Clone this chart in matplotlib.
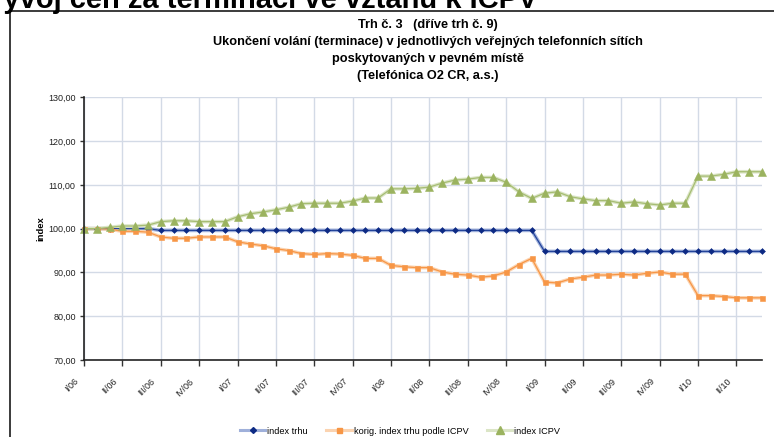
import matplotlib
matplotlib.use("Agg")
import matplotlib.pyplot as plt
from matplotlib.lines import Line2D
import matplotlib.transforms as mtransforms
import numpy as np

# ---- data ----
quarter_labels = ["I/06", "II/06", "III/06", "IV/06", "I/07", "II/07", "III/07", "IV/07",
                  "I/08", "II/08", "III/08", "IV/08", "I/09", "II/09", "III/09", "IV/09",
                  "I/10", "II/10"]

index_trhu = [100.0] * 6 + [99.6] * 30 + [94.8] * 18

korig_index = [100.0, 100.0, 99.9, 99.4, 99.4, 99.2, 98.1, 97.8, 97.8, 98.1, 98.1, 98.1,
               97.0, 96.5, 96.1, 95.4, 95.0, 94.3, 94.1, 94.3, 94.2, 93.9, 93.2, 93.2,
               91.6, 91.3, 91.1, 91.1, 90.1, 89.6, 89.4, 88.9, 89.2, 90.1, 91.8, 93.2,
               87.8, 87.6, 88.5, 88.9, 89.4, 89.4, 89.6, 89.4, 89.8, 90.1, 89.6, 89.6,
               84.7, 84.7, 84.5, 84.2, 84.2, 84.2]

index_icpv = [100.0, 100.0, 100.3, 100.6, 100.6, 100.8, 101.6, 101.8, 101.8, 101.6, 101.6, 101.6,
              102.7, 103.4, 103.8, 104.3, 104.9, 105.7, 105.8, 105.8, 105.8, 106.3, 107.0, 107.0,
              109.1, 109.1, 109.2, 109.5, 110.4, 111.1, 111.3, 111.7, 111.7, 110.6, 108.4, 106.9,
              108.1, 108.4, 107.3, 106.8, 106.4, 106.4, 105.8, 106.1, 105.7, 105.4, 105.8, 105.8,
              112.0, 112.0, 112.4, 113.0, 113.0, 113.0]

series_names = ["index trhu", "korig. index trhu podle ICPV", "index ICPV"]

W, H = 774, 437
fig = plt.figure(figsize=(W / 100, H / 100), dpi=100)
fig.patch.set_facecolor("white")

FONT = "Liberation Sans"

def fx(px):
    return px / W

def fy(py):
    return 1 - py / H

# big heading (cut off at top, as in the source)
fig.text(fx(537), fy(8), "Vývoj cen za terminaci ve vztahu k ICPV", ha="right", va="baseline",
         fontsize=21, fontweight="bold", family=FONT, color="black")

# chart frame (top + left visible)
fig.add_artist(Line2D([fx(9.5), 1.0], [fy(10.5), fy(10.5)], color="#1a1a1a", lw=1.2,
                      transform=fig.transFigure))
fig.add_artist(Line2D([fx(9.5), fx(9.5)], [fy(10.5), 0.0], color="#1a1a1a", lw=1.2,
                      transform=fig.transFigure))

# chart titles
title_lines = ["Trh č. 3   (dříve trh č. 9)",
               "Ukončení volání (terminace) v jednotlivých veřejných telefonních sítích",
               "poskytovaných v pevném místě",
               "(Telefónica O2 CR, a.s.)"]
for i, t in enumerate(title_lines):
    fig.text(fx(428), fy(25 + 17 * i), t, ha="center", va="center", fontsize=9.2,
             fontweight="bold", family=FONT)

left, right, top, bottom = 84, 762, 97.3, 360
ax = fig.add_axes([fx(left), fy(bottom), fx(right - left), (bottom - top) / H])

x = np.arange(len(index_trhu))
n = len(x)

grid_c = "#d3dae6"
ax.set_xlim(0, n - 1)
ax.set_ylim(70, 130)
ax.set_yticks(np.arange(70, 131, 10))
ax.set_yticklabels([f"{v:.2f}".replace(".", ",") for v in np.arange(70, 131, 10)],
                   fontsize=6.5, family=FONT, color="#222222")
ax.set_xticks(np.arange(0, n, 3))
ax.set_xticklabels(quarter_labels, rotation=45, ha="right", rotation_mode="anchor",
                   fontsize=6.5, family=FONT, color="#222222")
ax.tick_params(axis="x", length=4, width=1, color="#333333", pad=8)
ax.tick_params(axis="y", length=3, width=1, color="#333333", pad=3)
offset = mtransforms.ScaledTranslation(-0.10, 0, fig.dpi_scale_trans)
for lbl in ax.get_xticklabels():
    lbl.set_transform(lbl.get_transform() + offset)

ax.grid(True, color=grid_c, lw=1.0)
ax.set_axisbelow(True)
for s in ["top", "right"]:
    ax.spines[s].set_visible(False)
for s in ["left", "bottom"]:
    ax.spines[s].set_color("#222222")
    ax.spines[s].set_linewidth(1.2)
    ax.spines[s].set_zorder(5)

ax.set_ylabel("index", fontsize=6.8, fontweight="bold", family=FONT)
ax.yaxis.label.set_va("center")
ax.yaxis.set_label_coords((41 - left) / (right - left), 0.5)

styles = [
    (index_trhu, "#9fb0da", "#23449b", "#0d2a84", "D", 3.0),
    (korig_index, "#fbd3b0", "#f79646", "#f79646", "s", 3.6),
    (index_icpv, "#dbe5c6", "#a6bd73", "#9bb35f", "^", 5.5),
]
handles = []
for (vals, halo, lc, mc, mk, ms), name in zip(styles, series_names):
    ax.plot(x, vals, color=halo, lw=2.6, solid_capstyle="round", zorder=3, clip_on=False)
    ax.plot(x, vals, color=lc, lw=0.9, marker=mk, markersize=ms, markerfacecolor=mc,
            markeredgecolor=mc, markeredgewidth=0.4, zorder=4, clip_on=False, label=name)
    handles.append(Line2D([0], [0], color=halo, lw=2.2, marker=mk, markersize=ms,
                          markerfacecolor=mc, markeredgecolor=mc))

fig.legend(handles, series_names, loc="center", bbox_to_anchor=(fx(400), fy(431)), ncol=3,
           frameon=False, prop={"family": FONT, "size": 6.6}, handlelength=2.8,
           handletextpad=0.2, columnspacing=2.0)

fig.savefig("out.png", dpi=100, facecolor="white")
